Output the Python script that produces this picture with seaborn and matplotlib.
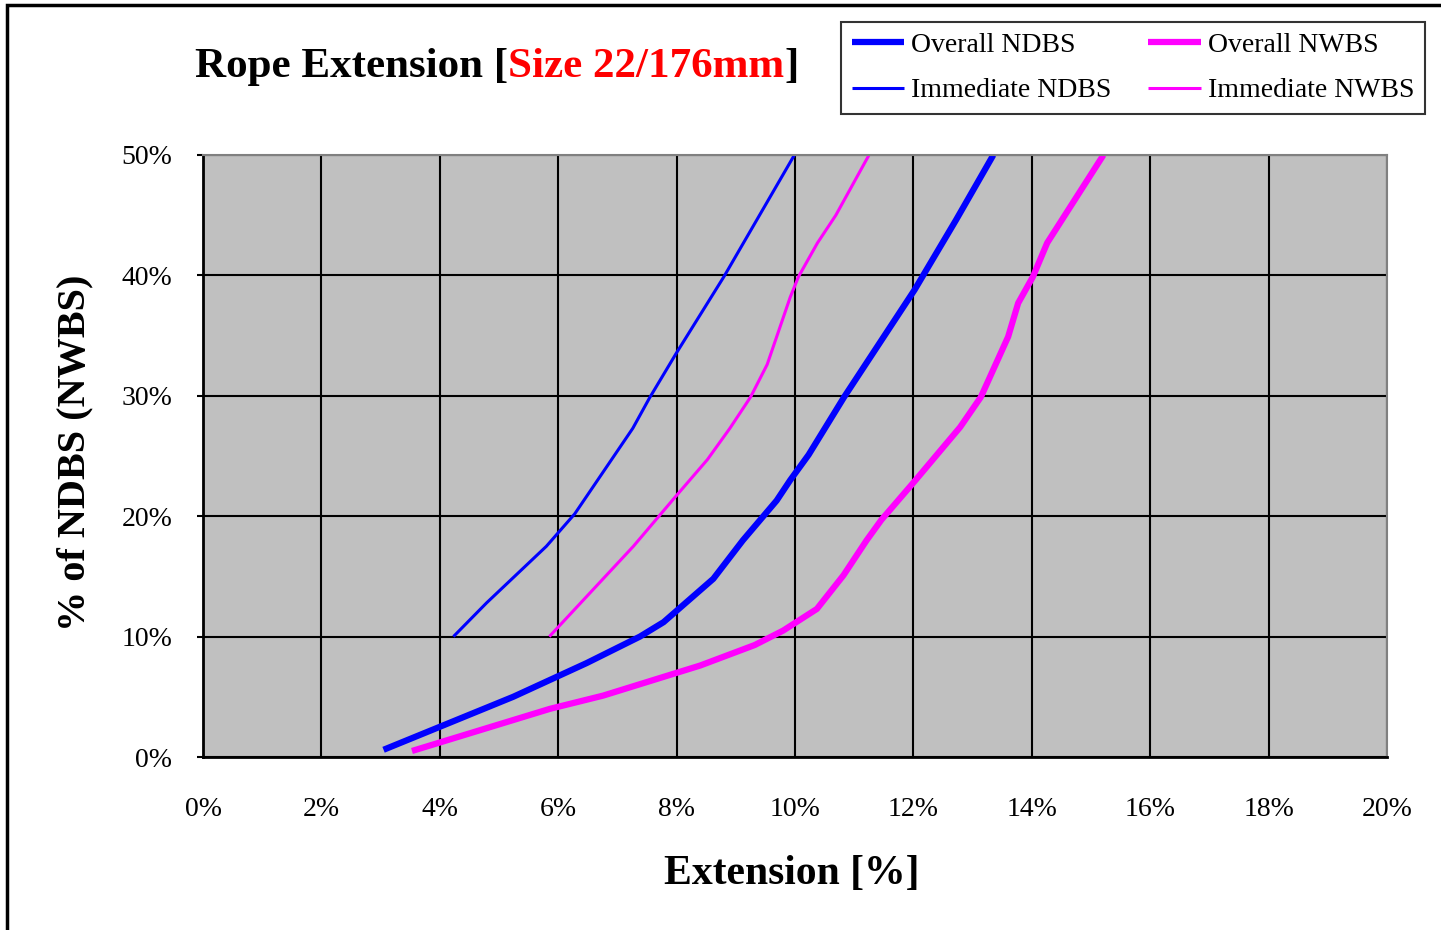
import numpy as np
import pandas as pd
import matplotlib
matplotlib.use('Agg')
import matplotlib.pyplot as plt
import seaborn as sns
from matplotlib.patches import Rectangle

# valores (extensão em %, carga em % do NDBS)
overall_ndbs_ext = [3.05, 5.24, 6.48, 7.38, 7.78, 8.62, 9.12, 9.69, 9.92, 10.23, 10.83, 12.02, 12.72, 13.35]
overall_ndbs_load = [0.6, 5.0, 7.8, 10.0, 11.2, 14.8, 18.0, 21.3, 23.0, 25.1, 29.9, 38.8, 44.6, 50.0]

overall_nwbs_ext = [3.53, 5.86, 6.76, 8.40, 9.32, 9.80, 10.37, 10.82, 11.21, 11.46, 12.02, 12.79, 13.14,
                    13.60, 13.77, 14.02, 14.26, 15.21]
overall_nwbs_load = [0.5, 4.0, 5.1, 7.6, 9.3, 10.5, 12.3, 15.1, 18.0, 19.7, 22.9, 27.4, 29.9,
                     34.9, 37.7, 39.9, 42.7, 50.0]

immediate_ndbs_ext = [4.23, 4.79, 5.80, 6.28, 7.26, 7.54, 7.99, 8.80, 9.99]
immediate_ndbs_load = [10.0, 12.8, 17.5, 20.2, 27.3, 29.8, 33.5, 39.9, 50.0]

immediate_nwbs_ext = [5.85, 7.27, 7.96, 8.52, 8.90, 9.25, 9.53, 9.92, 10.06, 10.38, 10.69, 11.25]
immediate_nwbs_load = [10.0, 17.5, 21.5, 24.7, 27.3, 29.9, 32.6, 38.2, 39.9, 42.7, 45.0, 50.0]

x_ticks = list(range(0, 21, 2))
y_ticks = list(range(0, 51, 10))

sns.set_style('white')
plt.rcParams['font.family'] = ['Liberation Serif', 'DejaVu Serif']
plt.rcParams['text.color'] = 'black'
plt.rcParams['axes.labelcolor'] = 'black'
plt.rcParams['xtick.color'] = 'black'
plt.rcParams['ytick.color'] = 'black'

fig = plt.figure(figsize=(14.41, 9.30), dpi=100)
ax = fig.add_axes([203 / 1441, 1 - 757 / 930, (1387 - 203) / 1441, (757 - 155) / 930])
ax.set_facecolor('#C0C0C0')

series = [
    ('Overall NDBS', overall_ndbs_ext, overall_ndbs_load, '#0000FF', 4.5),
    ('Immediate NDBS', immediate_ndbs_ext, immediate_ndbs_load, '#0000FF', 2.2),
    ('Overall NWBS', overall_nwbs_ext, overall_nwbs_load, '#FF00FF', 4.5),
    ('Immediate NWBS', immediate_nwbs_ext, immediate_nwbs_load, '#FF00FF', 2.2),
]
for nome, ext, carga, cor, lw in series:
    sns.lineplot(x=ext, y=carga, ax=ax, color=cor, linewidth=lw, sort=False,
                 estimator=None, label=nome, solid_capstyle='butt')

ax.set_xlim(0, 20)
ax.set_ylim(0, 50)
ax.set_xticks(x_ticks)
ax.set_yticks(y_ticks)
ax.set_xticklabels([f'{v}%' for v in x_ticks])
ax.set_yticklabels([f'{v}%' for v in y_ticks])
ax.set_xlabel('')
ax.set_ylabel('')
ax.grid(True, color='black', linewidth=1.5)
ax.set_axisbelow(True)
ax.tick_params(axis='x', labelsize=20, length=0, pad=29)
ax.tick_params(axis='y', labelsize=20, length=4, width=1.5, direction='out', pad=18, left=True)
for s in ['top', 'right']:
    ax.spines[s].set_color('#808080')
    ax.spines[s].set_linewidth(1.5)
for s in ['left', 'bottom']:
    ax.spines[s].set_color('black')
    ax.spines[s].set_linewidth(2)

handles, labels = ax.get_legend_handles_labels()
ax.get_legend().remove()
leg = fig.legend(handles, labels, ncol=2, loc='lower left',
                 bbox_to_anchor=(841 / 1441, 1 - 114 / 930, (1425 - 841) / 1441, (114 - 22) / 930),
                 mode='expand', borderaxespad=0, fontsize=20, handlelength=1.9,
                 handletextpad=0.25, labelspacing=0.72, borderpad=0.38, frameon=True,
                 fancybox=False)
leg.get_frame().set_edgecolor('black')
leg.get_frame().set_linewidth(1.5)

# título em três partes (parte central em vermelho)
fig.canvas.draw()
rend = fig.canvas.get_renderer()
W, H = fig.get_size_inches() * fig.dpi
x0 = 195 / W
yb = 1 - 77 / H
partes = [('Rope Extension [', 'black'), ('Size 22/176mm', 'red'), (']', 'black')]
for txt, cor in partes:
    t = fig.text(x0, yb, txt, fontsize=31, fontweight='bold', color=cor, va='baseline', ha='left')
    bb = t.get_window_extent(renderer=rend)
    x0 = bb.x1 / W

fig.text(75 / W, 1 - 453 / H, '% of NDBS (NWBS)', rotation=90, fontsize=29, fontweight='bold',
         ha='center', va='center')
fig.text(792 / W, 1 - 874 / H, 'Extension [%]', fontsize=30, fontweight='bold',
         ha='center', va='center')

# moldura externa
fig.patches.append(Rectangle((7 / W, -0.1), 1.2, 1.1 - 5 / H, transform=fig.transFigure,
                             fill=False, edgecolor='black', linewidth=2.5))

fig.savefig('out.png', dpi=100)
